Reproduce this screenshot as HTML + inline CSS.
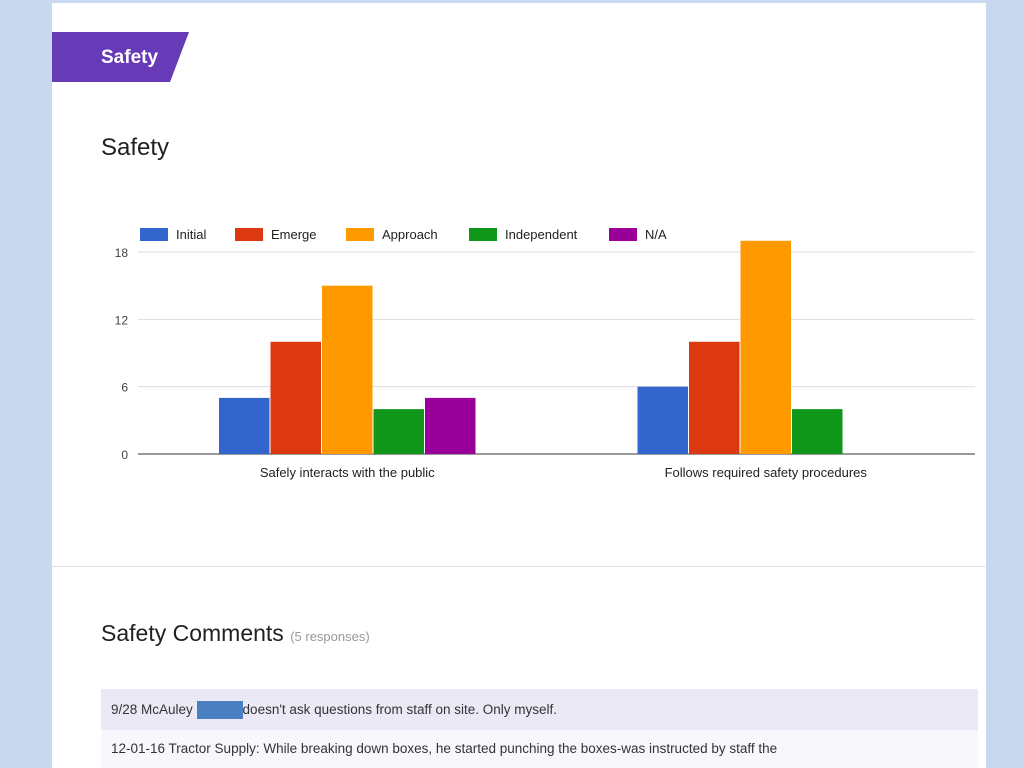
<!DOCTYPE html>
<html><head><meta charset="utf-8">
<style>
body{margin:0;width:1024px;height:768px;background:#c8d9ef;position:relative;overflow:hidden;font-family:"Liberation Sans",sans-serif}
.card{position:absolute;left:52px;top:3px;width:934px;height:765px;background:#fff}
.tab{position:absolute;left:52px;top:32px}
.h{position:absolute;color:#212121}
.row{position:absolute;left:101px;width:877px;font-size:13.5px;color:#333;box-sizing:border-box;padding-left:10px}
</style></head><body>
<div class="card"></div>
<svg class="tab" width="140" height="50"><polygon points="0,0 137,0 118,50 0,50" fill="#673ab7"/><text x="49" y="31" fill="#fff" font-size="19" font-family="Liberation Sans" font-weight="bold">Safety</text></svg>
<div class="h" style="left:101px;top:134px;font-size:24px">Safety</div>
<div style="position:absolute;left:52px;top:566px;width:934px;height:1px;background:#e0e0e0"></div>
<div class="h" style="left:101px;top:620px;font-size:23px">Safety Comments <span style="font-size:13px;color:#999">(5 responses)</span></div>
<div class="row" style="top:689px;height:41px;line-height:41px;background:#ece9f6">9/28 McAuley <span style="display:inline-block;width:46px;height:18px;background:#4a7fc1;vertical-align:middle"></span>doesn't ask questions from staff on site. Only myself.</div>
<div class="row" style="top:730px;height:38px;line-height:38px;background:#f8f7fc">12-01-16 Tractor Supply: While breaking down boxes, he started punching the boxes-was instructed by staff the</div>
<svg id="chart" width="1024" height="768" style="position:absolute;left:0;top:0"></svg>
<script>
const categories=["Safely interacts with the public","Follows required safety procedures"];
const seriesNames=["Initial","Emerge","Approach","Independent","N/A"];
const seriesColors=["#3366cc","#dc3912","#ff9900","#109618","#990099"];
const initial=[5,6];
const emerge=[10,10];
const approach=[15,19];
const independent=[4,4];
const na=[5,0];
const ticks=[0,6,12,18];
const series=[initial,emerge,approach,independent,na];
const svg=document.getElementById('chart');
const NS='http://www.w3.org/2000/svg';
const x0=138,x1=975,yBase=454,pxPer=(454-252)/18;
const y=v=>yBase-v*pxPer;
const catW=(x1-x0)/categories.length;
const barW=50.5,gap=1;
function mk(t,a){const e=document.createElementNS(NS,t);for(const k in a)e.setAttribute(k,a[k]);svg.appendChild(e);return e;}
ticks.forEach(t=>{
 const l=mk('line',{x1:x0,x2:x1,y1:y(t),y2:y(t),stroke:t===0?'#333':'#ddd','stroke-width':1});
 
 
 const tx=mk('text',{x:128,y:y(t)+5,'text-anchor':'end','font-size':12,fill:'#444','font-family':'Liberation Sans'});
 tx.textContent=t;
 
 
});
const groupW=series.length*barW+(series.length-1)*gap;
categories.forEach((c,i)=>{
 const cx=x0+catW*(i+0.5);
 series.forEach((s,j)=>{
  const v=s[i]; if(!v) return;
  const bx=cx-groupW/2+j*(barW+gap);
  const r=mk('rect',{x:bx,y:y(v),width:barW,height:yBase-y(v),fill:seriesColors[j]});
  
  
 });
 const t=mk('text',{x:cx,y:477,'text-anchor':'middle','font-size':13,fill:'#222','font-family':'Liberation Sans'});
 t.textContent=c;
 
 
});
const legX=[140,235,346,469,609];
seriesNames.forEach((n,j)=>{
 const r=mk('rect',{x:legX[j],y:228,width:28,height:13,fill:seriesColors[j]});
 
 
 const t=mk('text',{x:legX[j]+36,y:239,'font-size':13,fill:'#222','font-family':'Liberation Sans'});
 t.textContent=n;
 
 
});
</script>
</body></html>
